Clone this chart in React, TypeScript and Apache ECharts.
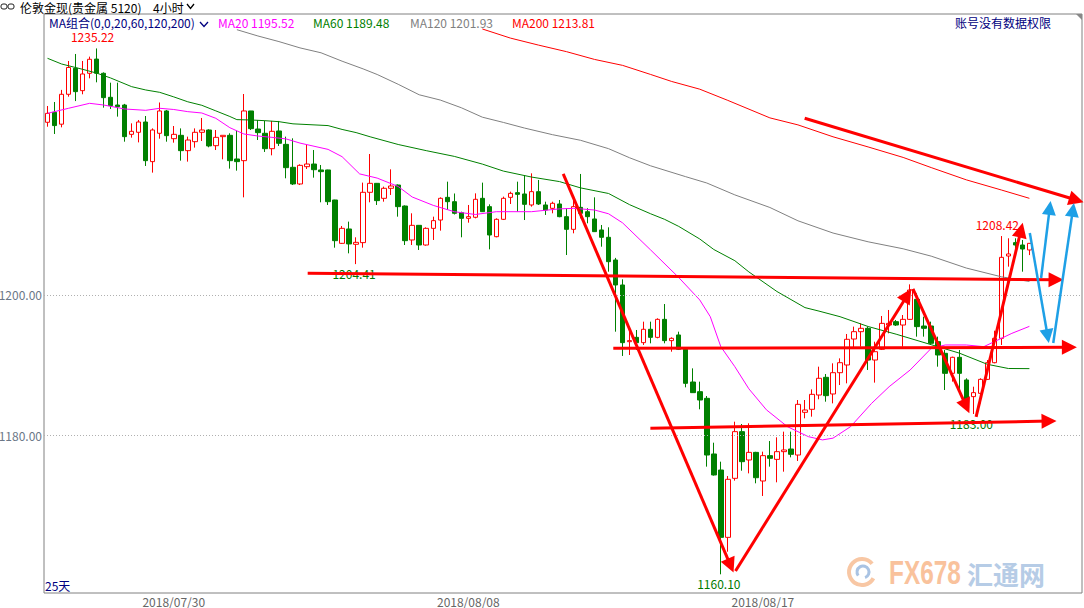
import React, { useEffect, useRef } from 'react';
import * as echarts from 'echarts';

// ---------- data ----------
const tradingDays = ['2018/07/25','2018/07/26','2018/07/27','2018/07/30','2018/07/31','2018/08/01','2018/08/02','2018/08/03','2018/08/06','2018/08/07','2018/08/08','2018/08/09','2018/08/10','2018/08/13','2018/08/14','2018/08/15','2018/08/16','2018/08/17','2018/08/20','2018/08/21','2018/08/22','2018/08/23','2018/08/24','2018/08/27'];
const slots = ['00:00','04:00','08:00','12:00','16:00','20:00'];
const shownDates = ['2018/07/30','2018/08/08','2018/08/17'];
const padSlots = 7;

// [open, close, low, high]
const candles = [
[1224.67,1225.95,1224.04,1227.0],[1226.1,1224.2,1223.0,1227.57],[1224.4,1228.67,1223.95,1229.3],[1228.67,1232.5,1228.33,1233.43],
[1232.38,1229.05,1227.7,1234.43],[1229.19,1231.57,1228.67,1233.43],[1231.67,1233.67,1230.95,1234.05],[1233.7,1231.67,1230.38,1235.22],
[1231.67,1228.19,1226.76,1231.8],[1228.24,1227.05,1226.57,1230.33],[1227.14,1226.9,1225.48,1230.33],[1227.14,1222.62,1221.9,1227.3],
[1222.95,1223.38,1222.48,1224.52],[1223.24,1224.71,1221.8,1225.0],[1224.71,1219.19,1218.43,1225.57],[1219.05,1223.57,1217.48,1223.8],
[1223.1,1226.29,1222.33,1227.5],[1226.29,1222.76,1221.9,1226.43],[1222.33,1222.95,1221.76,1224.14],[1222.81,1220.62,1219.19,1223.8],
[1220.62,1222.14,1219.05,1222.62],[1221.9,1223.24,1221.05,1223.8],[1223.24,1223.57,1222.0,1225.29],[1223.57,1221.29,1221.1,1223.67],
[1221.33,1222.52,1220.71,1223.57],[1222.62,1222.81,1219.38,1222.81],[1222.81,1219.19,1218.05,1223.1],[1219.43,1219.05,1217.76,1223.48],
[1219.19,1226.29,1213.95,1228.71],[1226.29,1223.76,1223.57,1226.3],[1223.71,1223.19,1222.14,1225.0],[1223.1,1220.9,1220.43,1224.86],
[1220.9,1223.38,1219.95,1224.86],[1223.43,1221.67,1221.29,1224.86],[1221.52,1218.19,1216.67,1222.62],[1218.24,1215.86,1215.71,1222.38],
[1215.86,1218.52,1215.71,1218.67],[1218.33,1218.71,1218.0,1221.43],[1218.71,1217.9,1216.76,1220.71],[1217.86,1217.62,1213.24,1218.57],
[1217.86,1213.33,1212.86,1217.9],[1213.57,1207.76,1206.76,1213.6],[1207.38,1209.52,1207.29,1209.86],[1209.43,1207.29,1205.95,1210.48],
[1207.24,1207.52,1204.41,1208.24],[1207.48,1214.67,1206.76,1216.05],[1214.67,1215.95,1213.24,1220.14],[1215.95,1213.48,1212.86,1216.0],
[1213.81,1215.24,1213.33,1215.48],[1215.24,1215.57,1214.29,1217.95],[1215.71,1212.62,1211.19,1215.8],[1212.71,1207.76,1207.14,1212.8],
[1207.86,1209.95,1207.14,1211.67],[1209.95,1207.14,1206.43,1210.0],[1207.14,1209.52,1207.05,1209.67],[1209.52,1210.62,1207.86,1211.19],
[1210.71,1213.81,1209.19,1213.95],[1213.95,1213.33,1212.14,1216.19],[1213.33,1211.67,1211.5,1214.5],[1211.76,1210.95,1208.24,1211.9],
[1210.95,1211.19,1210.33,1212.86],[1211.1,1213.67,1210.95,1214.52],[1213.81,1211.9,1211.85,1216.05],[1212.62,1208.57,1206.52,1212.95],
[1208.33,1210.81,1208.24,1210.95],[1210.81,1213.81,1210.71,1214.05],[1213.95,1214.52,1213.0,1214.76],[1214.62,1214.38,1211.9,1216.19],
[1214.43,1212.95,1210.71,1217.14],[1212.86,1214.76,1212.62,1217.38],[1214.76,1213.0,1212.86,1216.43],[1212.86,1212.14,1211.43,1213.33],
[1212.38,1213.1,1211.67,1213.33],[1213.0,1211.19,1211.1,1213.57],[1211.19,1209.38,1205.71,1212.38],[1209.38,1212.62,1208.81,1214.05],
[1212.52,1211.67,1210.95,1217.29],[1211.9,1211.19,1210.24,1212.4],[1210.86,1209.05,1209.0,1213.95],[1209.29,1208.24,1206.9,1210.0],
[1208.24,1204.76,1203.33,1209.67],[1205.0,1201.43,1194.76,1205.3],[1201.43,1193.19,1191.29,1202.24],[1193.33,1193.48,1191.43,1195.0],
[1193.95,1193.19,1192.14,1195.0],[1193.19,1195.1,1192.86,1196.19],[1195.1,1193.95,1193.1,1196.19],[1193.95,1196.52,1193.81,1196.67],
[1196.52,1193.48,1193.1,1198.71],[1193.48,1193.81,1191.9,1193.95],[1194.29,1192.24,1192.14,1194.76],[1192.24,1187.38,1186.81,1192.52],
[1187.57,1186.05,1186.0,1189.52],[1186.19,1185.0,1183.67,1187.62],[1185.24,1177.14,1175.48,1185.57],[1177.29,1174.29,1174.2,1178.9],
[1175.0,1165.38,1160.10,1176.19],[1165.38,1173.67,1163.33,1174.14],[1173.81,1180.48,1173.48,1181.9],[1180.48,1176.19,1174.9,1181.57],
[1176.43,1177.52,1174.52,1181.67],[1177.52,1173.9,1173.1,1177.6],[1173.43,1177.05,1171.29,1177.62],[1177.05,1176.67,1175.48,1179.14],
[1176.52,1177.62,1173.24,1179.67],[1177.62,1177.86,1174.76,1180.48],[1178.0,1177.24,1176.81,1180.48],[1177.14,1184.38,1176.29,1185.0],
[1183.24,1183.57,1182.38,1185.0],[1183.67,1185.81,1182.62,1186.52],[1185.71,1188.1,1185.1,1189.76],[1188.24,1185.62,1184.76,1188.71],
[1185.86,1188.9,1184.52,1190.24],[1188.9,1190.33,1187.14,1190.95],[1190.0,1193.67,1187.38,1194.43],[1193.71,1194.76,1192.38,1195.48],
[1194.76,1195.24,1192.62,1195.95],[1195.24,1190.71,1189.29,1195.48],[1190.71,1191.9,1187.48,1193.33],[1192.24,1195.95,1192.14,1197.0],
[1195.71,1195.95,1194.52,1197.86],[1196.19,1195.71,1195.57,1196.43],[1195.71,1196.52,1192.62,1197.14],[1196.52,1200.71,1196.43,1201.52],
[1199.38,1195.48,1194.05,1200.24],[1195.57,1195.24,1194.05,1196.9],[1195.57,1193.1,1192.86,1196.19],[1193.33,1191.43,1189.76,1194.05],
[1191.67,1188.81,1186.43,1192.14],[1188.81,1191.1,1187.62,1191.19],[1191.1,1188.81,1186.19,1192.14],[1187.86,1185.1,1183.57,1188.1],
[1185.48,1186.05,1183.0,1186.9],[1185.95,1187.95,1184.52,1188.1],[1187.95,1190.33,1187.86,1190.71],[1190.33,1193.81,1190.24,1194.9],
[1193.81,1205.38,1192.86,1208.42],[1205.57,1205.86,1204.05,1208.1],[1207.48,1207.14,1205.7,1208.1],[1207.14,1206.57,1203.33,1207.86],
[1206.43,1207.38,1205.7,1207.4]
];

const ma20Idx = [0,3,6,8,11,14,16,18,20,22,24,26,28,30,32,34,36,40,42,44.5,47,50,52,55,58,61,64,69,73,75,78,80,82,86,90,93,94.5,96,98,100,102.5,105.5,108.5,110.5,112,114.5,117.5,120,123,126,128,131,133.5,135.5,137.5,140];
const ma20Val = [1225.95,1226.67,1227.38,1227.14,1226.57,1226.38,1226.67,1226.5,1226.19,1226.0,1225.24,1223.9,1223.0,1222.71,1222.52,1222.3,1221.7,1220.8,1219.76,1217.3,1216.7,1215.5,1214.0,1212.8,1211.9,1211.5,1211.9,1211.9,1212.3,1212.38,1212.14,1211.6,1210.3,1206.43,1202.5,1199.29,1196.9,1192.62,1189.76,1186.6,1183.6,1181.19,1179.76,1179.3,1179.55,1181.19,1184.52,1186.9,1189.29,1192.38,1192.86,1192.86,1192.62,1193.57,1194.52,1195.52];

const ma60Idx = [0,2,5,7,9,12,14,16,18,20,22,24,26,27,29,31,33,35,40,42,44,46,50,54,58,62,65,69,73,76,80,83,86,88,90,93,95,98,100,104,108,110,113,117,121,126,130,134,137,140];
const ma60Val = [1233.81,1233.0,1232.24,1231.7,1231.0,1229.76,1229.29,1228.95,1228.3,1227.6,1227.1,1226.3,1225.5,1225.05,1225.0,1224.9,1224.76,1224.45,1224.2,1223.65,1223.2,1222.6,1221.5,1220.62,1219.8,1218.7,1217.7,1216.85,1216.2,1215.3,1214.5,1212.9,1211.6,1210.8,1209.8,1208.0,1206.5,1204.9,1203.3,1200.5,1198.2,1197.7,1196.9,1195.5,1194.4,1192.9,1191.7,1190.1,1189.5,1189.48];

const ma120Idx = [27,30,33,36,39,42,45,47,50,53,56,59,62,65,68,72,76,80,83,86,91,94,98,103,107,112,117,122,126,131,136,140];
const ma120Val = [1237.9,1237.0,1236.2,1235.3,1234.6,1233.4,1232.3,1231.5,1230.1,1228.6,1227.85,1226.75,1225.4,1224.65,1223.85,1222.9,1222.1,1220.9,1219.6,1218.45,1216.9,1216.0,1214.3,1212.5,1210.6,1208.85,1207.6,1206.6,1205.55,1203.85,1202.6,1201.93];

const ma200Idx = [62,66,70,74,78,82,86,89,93,97,103,107,112,117,122,126,131,136,140];
const ma200Val = [1238.0,1236.7,1235.7,1234.76,1233.65,1232.8,1231.5,1230.5,1229.4,1227.8,1225.3,1224.3,1222.6,1221.15,1219.65,1218.2,1216.45,1215.0,1213.81];

// [fromIndex, fromPrice, toIndex, toPrice]
const redArrows = [
  [107.96, 1225.24, 146.7, 1213.57],
  [37.1, 1203.1, 143.8, 1202.17],
  [80.67, 1192.39, 145.7, 1192.53],
  [85.96, 1180.96, 142.8, 1181.99],
  [73.53, 1217.29, 97.4, 1161.34],
  [98.1, 1160.57, 122.6, 1199.97],
  [123.4, 1200.86, 131.0, 1184.1],
  [132.4, 1182.6, 138.8, 1209.27],
];
const blueArrows = [
  [140.06, 1208.86, 142.6, 1194.13],
  [141.67, 1202.43, 142.9, 1212.43],
  [143.4, 1193.14, 146.2, 1212.16],
];

const yTicks = [1200, 1180];
const extremes = [
  { idx: 7, price: 1235.22, high: true },
  { idx: 44, price: 1204.41, high: false },
  { idx: 96, price: 1160.10, high: false },
  { idx: 132, price: 1183.0, high: false },
  { idx: 136, price: 1208.42, high: true },
];

const legendItems = [
  { text: 'MA20 1195.52', color: '#ff00ff', x: 218 },
  { text: 'MA60 1189.48', color: '#008000', x: 313 },
  { text: 'MA120 1201.93', color: '#808080', x: 410 },
  { text: 'MA200 1213.81', color: '#ff0000', x: 512 },
];

const FONT = 'SimSun, "Noto Sans CJK SC", sans-serif';

export default function App() {
  const ref = useRef<HTMLDivElement>(null);
  useEffect(() => {
    if (!ref.current) return;
    const chart = echarts.init(ref.current, undefined, { renderer: 'svg' });

    const categories: string[] = [];
    candles.forEach((_, i) => {
      categories.push(tradingDays[Math.floor(i / 6)] + ' ' + slots[i % 6]);
    });
    for (let k = 0; k < padSlots; k++) categories.push('pad' + k);

    const maSeries = (idx: number[], val: number[], color: string) => ({
      type: 'line',
      xAxisIndex: 1,
      yAxisIndex: 0,
      data: idx.map((x, i) => [x, val[i]]),
      showSymbol: false,
      symbol: 'none',
      silent: true,
      lineStyle: { color, width: 1 },
      z: 3,
    });

    const arrowSeries = (arr: number[][], color: string, width: number, size: number) => ({
      type: 'lines',
      coordinateSystem: 'cartesian2d',
      xAxisIndex: 1,
      yAxisIndex: 0,
      clip: false,
      silent: true,
      z: 10,
      symbol: ['none', 'triangle'],
      symbolSize: size,
      lineStyle: { color, width, opacity: 1, curveness: 0 },
      data: arr.map((a) => ({ coords: [[a[0], a[1]], [a[2], a[3]]] })),
    });

    const txt = (text: string, x: number, y: number, fill: string, align = 'left', size = 12) => ({
      type: 'text',
      x,
      y,
      silent: true,
      style: { text, fill, font: `${size}px ${FONT}`, textAlign: align, textVerticalAlign: 'middle', lineHeight: size },
    });

    chart.setOption({
      animation: false,
      backgroundColor: '#ffffff',
      grid: { left: 44, right: 2, top: 14, bottom: 15, show: true, borderColor: '#808080', borderWidth: 1 },
      xAxis: [
        {
          type: 'category',
          data: categories,
          boundaryGap: true,
          axisLine: { show: false },
          axisTick: { show: false },
          splitLine: { show: false },
          axisLabel: {
            interval: (i: number, v: string) => i % 6 === 0 && shownDates.includes(String(v).split(' ')[0]),
            formatter: (v: string) => String(v).split(' ')[0],
            color: '#666666',
            fontSize: 12,
            lineHeight: 12,
            fontFamily: FONT,
            margin: 2,
          },
        },
        { type: 'value', min: -0.5, max: 147.5, show: false },
      ],
      yAxis: { type: 'value', min: 1157.43, max: 1240.14, show: false, scale: true },
      series: [
        {
          type: 'candlestick',
          data: candles,
          barWidth: 5,
          silent: true,
          itemStyle: { color: '#ffffff', color0: '#008000', borderColor: '#ff0000', borderColor0: '#008000', borderWidth: 1 },
          markLine: {
            silent: true,
            symbol: ['none', 'none'],
            lineStyle: { color: '#b0b0b0', type: [1, 2], width: 1 },
            label: {
              position: 'start',
              distance: 2,
              formatter: (p: any) => Number(p.value).toFixed(2),
              color: '#6b7787',
              fontSize: 12,
              fontFamily: FONT,
            },
            data: yTicks.map((v) => ({ yAxis: v })),
          },
          markPoint: {
            silent: true,
            symbol: 'circle',
            symbolSize: 1,
            itemStyle: { color: 'rgba(0,0,0,0)' },
            data: extremes.map((e) => ({
              coord: [e.idx, e.price],
              value: e.price,
              label: {
                show: true,
                formatter: e.price.toFixed(2),
                position: e.high ? 'top' : 'bottom',
                distance: e.high ? 5 : 3,
                offset: [e.high ? -4 : -2, 0],
                color: e.high ? '#ff0000' : '#007a00',
                fontSize: 12,
                fontFamily: FONT,
              },
            })),
          },
        },
        maSeries(ma20Idx, ma20Val, '#ff00ff'),
        maSeries(ma60Idx, ma60Val, '#008000'),
        maSeries(ma120Idx, ma120Val, '#808080'),
        maSeries(ma200Idx, ma200Val, '#ff0000'),
        arrowSeries(redArrows, '#ff0000', 3, 15),
        arrowSeries(blueArrows, '#1ea0e6', 2.5, 14),
      ],
      graphic: [
        // title bar
        { type: 'rect', silent: true, shape: { x: 1, y: 4, width: 6, height: 5, r: 2 }, style: { fill: 'none', stroke: '#222', lineWidth: 1 } },
        { type: 'rect', silent: true, shape: { x: 8, y: 4, width: 6, height: 5, r: 2 }, style: { fill: 'none', stroke: '#222', lineWidth: 1 } },
        txt('伦敦金现(贵金属 5120)', 20, 7, '#000000'),
        txt('4小时', 153, 7, '#000000'),
        { type: 'polyline', silent: true, shape: { points: [[187, 4], [190.5, 8.5], [194, 4]] }, style: { stroke: '#000', lineWidth: 1.3, fill: 'none' } },
        // legend
        txt('MA组合(0,0,20,60,120,200)', 49, 22, '#000080'),
        { type: 'polyline', silent: true, shape: { points: [[200, 22], [204, 26.5], [208, 22]] }, style: { stroke: '#000080', lineWidth: 1.3, fill: 'none' } },
        ...legendItems.map((l) => txt(l.text, l.x, 22, l.color)),
        txt('账号没有数据权限', 1051, 22, '#000080', 'right'),
        { type: 'polygon', silent: true, shape: { points: [[1076, 14], [1082, 14], [1082, 20]] }, style: { fill: '#888888' } },
        txt('25天', 45, 585, '#000080'),
        // watermark
        { type: 'arc', silent: true, shape: { cx: 862, cy: 572, r: 13, startAngle: 0.5, endAngle: 5.6 }, style: { stroke: '#f8c7a4', lineWidth: 4, fill: 'none' } },
        { type: 'arc', silent: true, shape: { cx: 863, cy: 572, r: 6, startAngle: 2.5, endAngle: 7.5 }, style: { stroke: '#a9c3e3', lineWidth: 3, fill: 'none' } },
        {
          type: 'text', silent: true, x: 889, y: 573, scaleX: 0.74,
          style: { text: 'FX678', fill: '#f9c29c', font: 'bold 33px "Liberation Sans", sans-serif', textVerticalAlign: 'middle' },
        },
        {
          type: 'text', silent: true, x: 967, y: 573,
          style: { text: '汇通网', fill: '#b6cce6', font: 'bold 26px "Noto Sans CJK SC", sans-serif', textVerticalAlign: 'middle' },
        },
      ],
    });
    return () => chart.dispose();
  }, []);
  return <div ref={ref} style={{ position: 'fixed', left: 0, top: 0, width: 1084, height: 608, background: '#fff' }} />;
}
